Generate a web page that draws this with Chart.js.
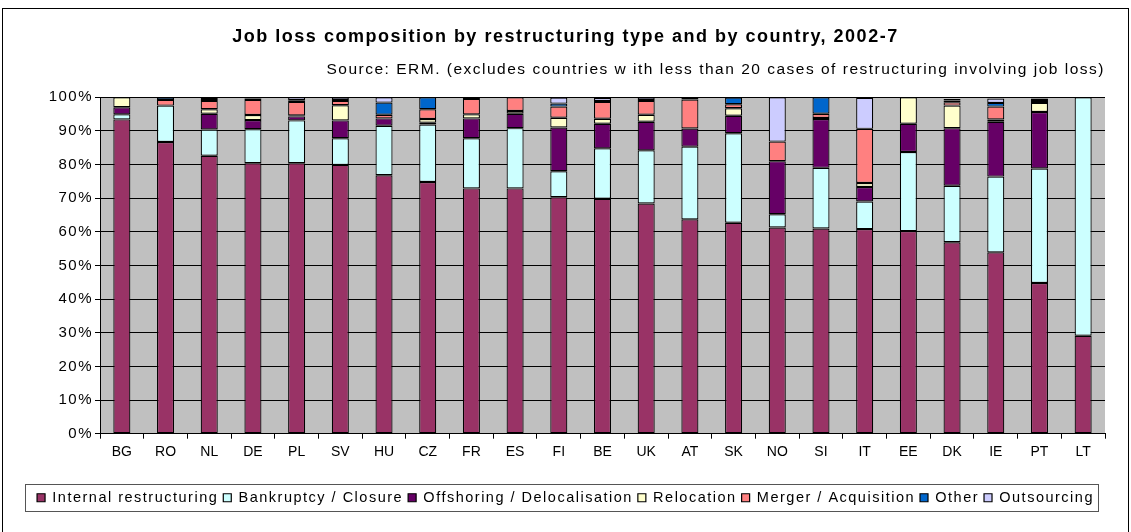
<!DOCTYPE html>
<html>
<head>
<meta charset="utf-8">
<script src="https://cdn.jsdelivr.net/npm/chart.js@4.4.1/dist/chart.umd.min.js"></script>
<style>
  html, body { margin: 0; padding: 0; background: #fff; }
  #wrap { width: 1131px; height: 532px; position: relative; }
</style>
</head>
<body>
<div id="wrap"><canvas id="jobChart"></canvas></div>
<script>
/* ── Data ── */
const countries = ['BG','RO','NL','DE','PL','SV','HU','CZ','FR','ES','FI','BE','UK','AT','SK','NO','SI','IT','EE','DK','IE','PT','LT'];

const internal    = [93.4, 86.7, 82.6, 80.4, 80.4, 79.9, 76.8, 74.8, 72.9, 72.9, 70.3, 69.8, 68.4, 63.7, 62.7, 61.3, 61.0, 60.8, 60.2, 56.9, 53.9, 44.8, 29.1];
const bankruptcy  = [1.5, 10.8, 7.8, 10.1, 12.7, 7.9, 14.7, 17.1, 14.9, 17.9, 7.7, 15.0, 15.8, 21.6, 26.6, 3.9, 18.0, 8.2, 23.5, 16.8, 22.5, 34.0, 70.9];
const offshoring  = [2.1, 0, 4.7, 2.7, 1.2, 5.3, 2.2, 0.5, 5.9, 4.3, 13.0, 7.3, 8.5, 5.4, 5.2, 15.8, 14.5, 4.3, 8.4, 17.1, 16.3, 16.8, 0];
const relocation  = [3.0, 0, 1.3, 1.5, 0.3, 4.5, 0, 1.1, 1.2, 0.8, 2.9, 1.5, 2.1, 0, 2.2, 0, 0.3, 1.2, 7.9, 6.7, 0.7, 2.7, 0];
const merger      = [0, 1.7, 2.5, 4.5, 4.0, 1.3, 1.1, 2.9, 4.6, 4.1, 3.3, 5.0, 4.1, 8.6, 1.2, 5.8, 1.3, 16.1, 0, 1.0, 3.8, 0.6, 0];
const other       = [0, 0.8, 0.6, 0.4, 0.5, 0.3, 3.6, 3.6, 0.5, 0, 0.9, 0.3, 0.3, 0.7, 2.0, 0, 4.9, 0, 0, 0.5, 1.1, 0.7, 0];
const outsourcing = [0, 0, 0.5, 0.4, 0.9, 0.8, 1.6, 0, 0, 0, 1.8, 0.9, 0.8, 0, 0, 13.2, 0, 9.2, 0, 0.5, 1.3, 0, 0];

const yTicks = [0, 10, 20, 30, 40, 50, 60, 70, 80, 90, 100];

/* ── Colours (classic Excel palette) ── */
const PLUM   = '#993366';
const ICE    = '#CCFFFF';
const PURPLE = '#660066';
const CREAM  = '#FFFFCC';
const SALMON = '#FF8080';
const BLUE   = '#0066CC';
const LILAC  = '#CCCCFF';

const FONT    = "'Liberation Sans', Arial, sans-serif";
const SPACING = '1.5px';   // old Excel text is set wide

/* wide text everywhere except the category labels */
const spacingPlugin = {
  id: 'spacing',
  beforeLayout(chart) { chart.ctx.letterSpacing = SPACING; },
  beforeDraw(chart)   { chart.ctx.letterSpacing = SPACING; },
  afterLayout(chart) {
    const xs = chart.scales.x;
    if (xs && !xs._plain) {
      const orig = xs.drawLabels;
      xs.drawLabels = function (area) {
        const c = this.ctx;
        const prev = c.letterSpacing;
        c.letterSpacing = '0px';
        orig.call(this, area);
        c.letterSpacing = prev;
      };
      xs._plain = true;
    }
  }
};

/* gray plot area + outer frame + legend frame */
const framePlugin = {
  id: 'frame',
  beforeDraw(chart) {
    const { ctx, chartArea: a } = chart;
    ctx.save();
    ctx.fillStyle = '#C0C0C0';
    ctx.fillRect(a.left, a.top, a.right - a.left, a.bottom - a.top);
    ctx.restore();
  },
  afterDraw(chart) {
    const { ctx } = chart;
    ctx.save();
    ctx.strokeStyle = '#000';
    ctx.lineWidth = 1;
    ctx.strokeRect(2.5, 8.5, chart.width - 5, chart.height + 10);
    const boxes = chart.legend.legendHitBoxes;
    if (boxes && boxes.length) {
      const l = Math.min(...boxes.map(b => b.left)) - 12;
      const r = Math.max(...boxes.map(b => b.left + b.width)) + 4;
      const mid = boxes[0].top + boxes[0].height / 2;
      ctx.strokeStyle = '#555';
      ctx.strokeRect(Math.round(l) + 0.5, Math.round(mid - 14) + 0.5, Math.round(r - l), 27);
    }
    ctx.restore();
  }
};

function series(label, data, color) {
  return {
    label, data,
    backgroundColor: color,
    borderColor: '#000',
    borderWidth: 1.2,
    borderSkipped: false,
    barPercentage: 0.39,
    categoryPercentage: 1.0
  };
}

new Chart(document.getElementById('jobChart'), {
  type: 'bar',
  data: {
    labels: countries,
    datasets: [
      series('Internal restructuring', internal, PLUM),
      series('Bankruptcy / Closure', bankruptcy, ICE),
      series('Offshoring / Delocalisation', offshoring, PURPLE),
      series('Relocation', relocation, CREAM),
      series('Merger / Acquisition', merger, SALMON),
      series('Other', other, BLUE),
      series('Outsourcing', outsourcing, LILAC)
    ]
  },
  options: {
    responsive: true,
    maintainAspectRatio: false,
    animation: false,
    layout: { padding: { left: 26, right: 26, top: 0, bottom: 17 } },
    plugins: {
      title: {
        display: true,
        text: 'Job loss composition by restructuring type and by country, 2002-7',
        color: '#000',
        font: { family: FONT, size: 18, weight: 'bold' },
        padding: { top: 26, bottom: 13 }
      },
      subtitle: {
        display: true,
        text: 'Source: ERM. (excludes countries w ith less than 20 cases of restructuring involving job loss)',
        color: '#000',
        align: 'end',
        font: { family: FONT, size: 15.5 },
        padding: { top: 0, bottom: 18 }
      },
      legend: {
        position: 'bottom',
        labels: {
          color: '#000',
          font: { family: FONT, size: 14.5 },
          boxWidth: 8,
          boxHeight: 8,
          padding: 5,
          useBorderRadius: false
        }
      },
      tooltip: { enabled: false }
    },
    scales: {
      x: {
        stacked: true,
        afterFit(scale) { scale.height += 20; },
        grid: { display: true, drawOnChartArea: false, color: '#000', tickLength: 5 },
        border: { color: '#000' },
        ticks: { color: '#000', font: { family: FONT, size: 14 }, padding: 5, autoSkip: false, maxRotation: 0 }
      },
      y: {
        stacked: true,
        min: 0,
        max: 100,
        afterFit(scale) { scale.width = 74; },
        afterBuildTicks(scale) { scale.ticks = yTicks.map(v => ({ value: v })); },
        grid: { color: '#000', lineWidth: 1, tickLength: 5, drawOnChartArea: true },
        border: { color: '#000' },
        ticks: { color: '#000', font: { family: FONT, size: 15 }, padding: 2, callback: v => v + '%' }
      }
    }
  },
  plugins: [spacingPlugin, framePlugin]
});
</script>
</body>
</html>
